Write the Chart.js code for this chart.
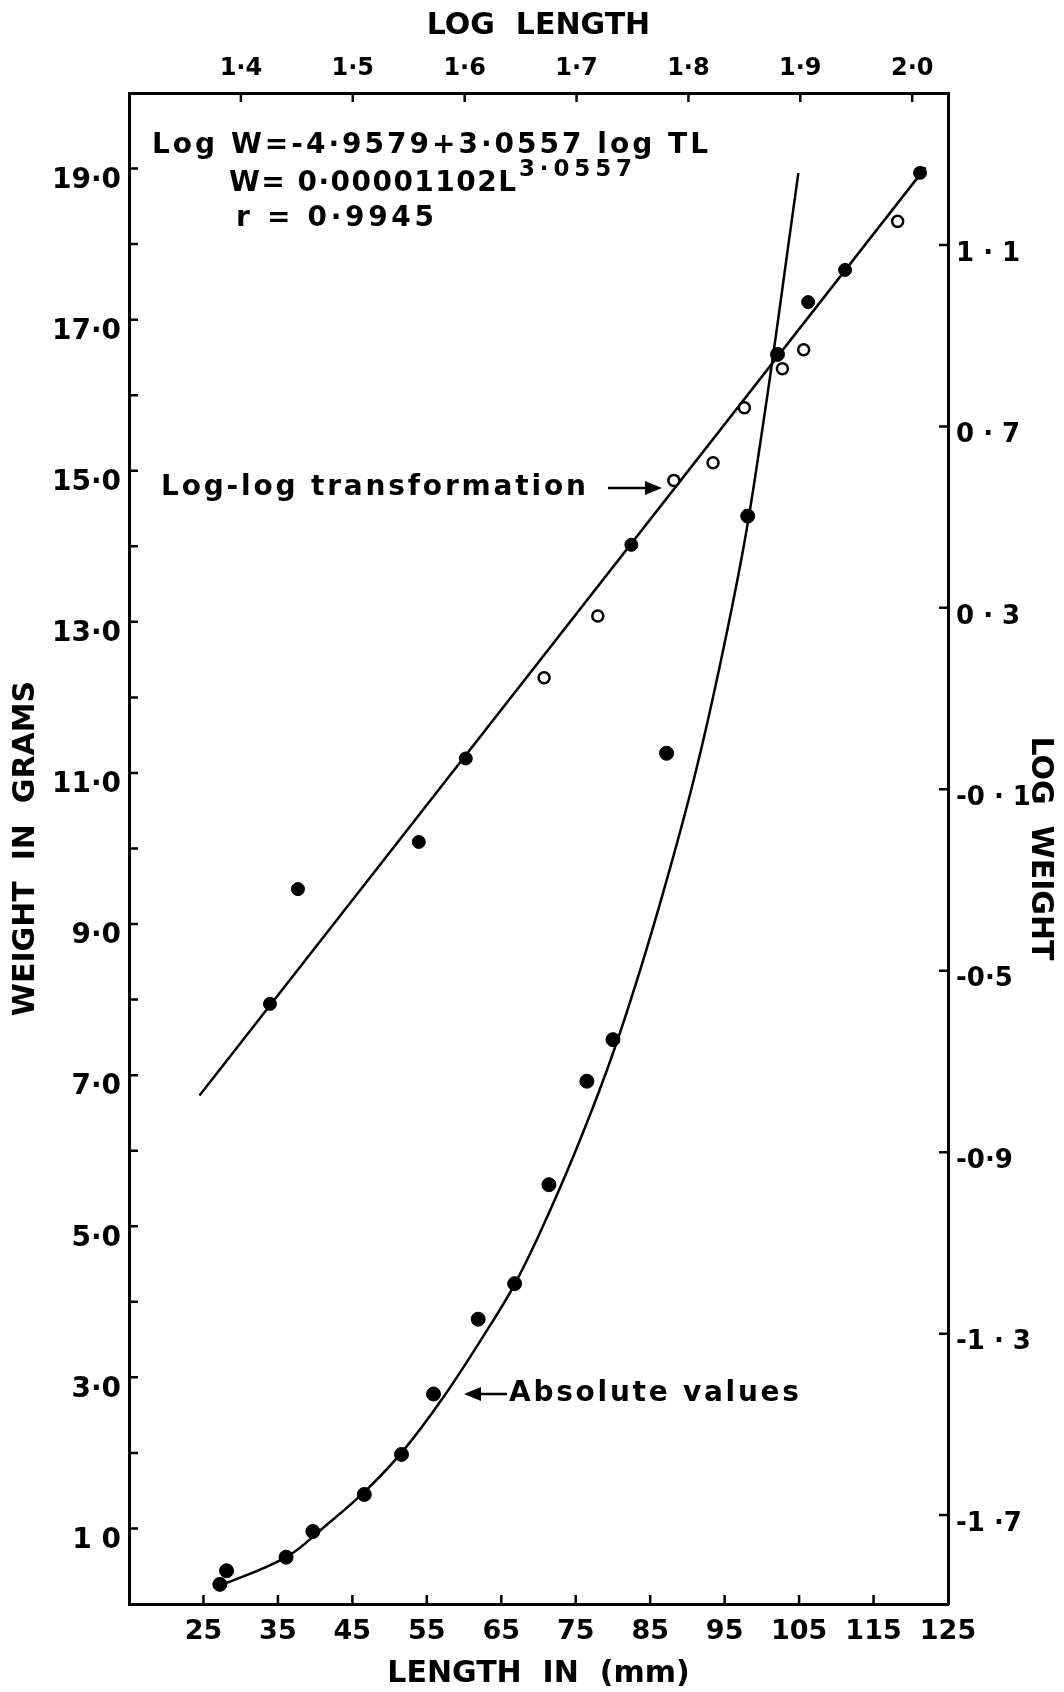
<!DOCTYPE html>
<html>
<head>
<meta charset="utf-8">
<script src="https://cdn.jsdelivr.net/npm/chart.js@4.4.1/dist/chart.umd.min.js"></script>
<style>
  html, body { margin: 0; padding: 0; background: #fff; }
  canvas { display: block; }
</style>
</head>
<body>
<canvas id="fishChart" width="1064" height="1692"></canvas>
<script>
// Tick values and labels (bottom: length mm, top: log length, left: weight g, right: log weight)
const xTickValues = [25, 35, 45, 55, 65, 75, 85, 95, 105, 115, 125];
const xTickLabels = ['25', '35', '45', '55', '65', '75', '85', '95', '105', '115', '125'];
const topTickValues = [1.4, 1.5, 1.6, 1.7, 1.8, 1.9, 2.0];
const topTickLabels = ['1·4', '1·5', '1·6', '1·7', '1·8', '1·9', '2·0'];
const leftTickValues = [1, 3, 5, 7, 9, 11, 13, 15, 17, 19];
const leftTickLabels = ['1 0', '3·0', '5·0', '7·0', '9·0', '11·0', '13·0', '15·0', '17·0', '19·0'];
const leftTickMarks = [1, 2, 3, 4, 5, 6, 7, 8, 9, 10, 11, 12, 13, 14, 15, 16, 17, 18, 19];
const rightTickValues = [-1.7, -1.3, -0.9, -0.5, -0.1, 0.3, 0.7, 1.1];
const rightTickLabels = ['-1 ·7', '-1 · 3', '-0·9', '-0·5', '-0 · 1', '0 · 3', '0 · 7', '1 · 1'];

// Absolute values (length mm, weight g)
const absLength = [27.2, 28.1, 36.1, 39.7, 46.6, 51.6, 55.9, 61.9, 66.8, 71.4, 76.5, 80.0, 87.2, 98.1, 102.1];
const absWeight = [0.26, 0.44, 0.62, 0.96, 1.45, 1.98, 2.78, 3.77, 4.24, 5.55, 6.92, 7.47, 11.26, 14.40, 16.54];

// Hand-drawn curve through the absolute values
const curveLength = [26.7, 36.1, 41.1, 46.9, 52.0, 57.1, 62.1, 66.9, 71.6, 75.9, 80.0, 83.9, 87.5, 91.1, 94.4, 97.6, 99.9, 102.0, 103.6, 104.9];
const curveWeight = [0.22, 0.62, 1.01, 1.51, 2.05, 2.72, 3.47, 4.25, 5.22, 6.22, 7.29, 8.47, 9.68, 11.01, 12.44, 14.02, 15.44, 16.87, 18.02, 18.94];

// Log-log points (log length, log weight), solid and open markers
const logLengthSolid = [1.426, 1.451, 1.559, 1.601, 1.749, 1.907, 1.940, 2.007];
const logWeightSolid = [-0.573, -0.320, -0.216, -0.032, 0.439, 0.974, 1.045, 1.259];
const logLengthOpen = [1.671, 1.719, 1.787, 1.822, 1.850, 1.884, 1.903, 1.987];
const logWeightOpen = [0.146, 0.282, 0.581, 0.620, 0.741, 0.827, 0.869, 1.152];

// Regression line ends
const fitLogLength = [1.363, 2.012];
const fitLogWeight = [-0.775, 1.271];

const FONT = "'DejaVu Sans', sans-serif";
const toPoints = (xs, ys) => xs.map((x, i) => ({ x: x, y: ys[i] }));

// draw text stretched to a given width with letter spacing
function fitText(ctx, text, x, y, width) {
    ctx.letterSpacing = '0px';
    const w = ctx.measureText(text).width;
    const gap = (width - w) / Math.max(1, text.length - 1);
    ctx.letterSpacing = gap.toFixed(2) + 'px';
    ctx.fillText(text, x, y);
    ctx.letterSpacing = '0px';
}

const inwardTicks = {
    id: 'inwardTicks',
    afterDraw(chart) {
        const { ctx, scales, chartArea } = chart;
        const len = 9;
        ctx.save();
        ctx.strokeStyle = '#000';
        ctx.lineWidth = 2.5;
        ctx.beginPath();
        xTickValues.slice(0, -1).forEach(v => {
            const px = scales.x.getPixelForValue(v);
            ctx.moveTo(px, chartArea.bottom);
            ctx.lineTo(px, chartArea.bottom - len);
        });
        topTickValues.forEach(v => {
            const px = scales.x2.getPixelForValue(v);
            ctx.moveTo(px, chartArea.top);
            ctx.lineTo(px, chartArea.top + len);
        });
        leftTickMarks.forEach(v => {
            const py = scales.y.getPixelForValue(v);
            ctx.moveTo(chartArea.left, py);
            ctx.lineTo(chartArea.left + len, py);
        });
        rightTickValues.forEach(v => {
            const py = scales.y2.getPixelForValue(v);
            ctx.moveTo(chartArea.right, py);
            ctx.lineTo(chartArea.right - len, py);
        });
        ctx.stroke();
        ctx.restore();
    }
};

const notes = {
    id: 'notes',
    afterDraw(chart) {
        const ctx = chart.ctx;
        ctx.save();
        ctx.fillStyle = '#000';
        ctx.strokeStyle = '#000';
        ctx.textAlign = 'left';
        ctx.textBaseline = 'middle';

        // equation block
        ctx.font = 'bold 28px ' + FONT;
        fitText(ctx, 'Log W=-4·9579+3·0557 log TL', 152, 146, 556);
        fitText(ctx, 'W= 0·00001102L', 229, 184, 287);
        fitText(ctx, 'r = 0·9945', 236, 219, 198);
        ctx.font = 'bold 23px ' + FONT;
        fitText(ctx, '3·0557', 519, 170, 113);

        // series labels
        ctx.font = 'bold 28px ' + FONT;
        fitText(ctx, 'Log-log transformation', 161, 488, 425);
        fitText(ctx, 'Absolute values', 509, 1394, 290);

        ctx.lineWidth = 2.5;
        ctx.beginPath();
        ctx.moveTo(608, 488);
        ctx.lineTo(648, 488);
        ctx.moveTo(480, 1394);
        ctx.lineTo(507, 1394);
        ctx.stroke();
        ctx.beginPath();
        ctx.moveTo(662, 488);
        ctx.lineTo(645, 481);
        ctx.lineTo(645, 495);
        ctx.closePath();
        ctx.moveTo(464, 1394);
        ctx.lineTo(481, 1387);
        ctx.lineTo(481, 1401);
        ctx.closePath();
        ctx.fill();
        ctx.restore();
    }
};

const tickFont = size => ({ family: FONT, size: size, weight: 'bold' });
const titleFont = { family: FONT, size: 30, weight: 'bold' };

new Chart(document.getElementById('fishChart').getContext('2d'), {
    type: 'scatter',
    data: {
        datasets: [
            {
                label: 'Absolute values',
                data: toPoints(absLength, absWeight),
                xAxisID: 'x',
                yAxisID: 'y',
                pointRadius: 7,
                backgroundColor: '#000',
                borderColor: '#000',
                showLine: false
            },
            {
                label: 'Log-log (solid)',
                data: toPoints(logLengthSolid, logWeightSolid),
                xAxisID: 'x2',
                yAxisID: 'y2',
                pointRadius: 6.5,
                backgroundColor: '#000',
                borderColor: '#000',
                showLine: false
            },
            {
                label: 'Log-log (open)',
                data: toPoints(logLengthOpen, logWeightOpen),
                xAxisID: 'x2',
                yAxisID: 'y2',
                pointRadius: 5.5,
                pointBorderWidth: 2.5,
                backgroundColor: '#fff',
                borderColor: '#000',
                showLine: false
            },
            {
                label: 'Absolute curve',
                data: toPoints(curveLength, curveWeight),
                xAxisID: 'x',
                yAxisID: 'y',
                showLine: true,
                pointRadius: 0,
                borderColor: '#000',
                borderWidth: 2.5,
                tension: 0.4
            },
            {
                label: 'Log-log fit',
                data: toPoints(fitLogLength, fitLogWeight),
                xAxisID: 'x2',
                yAxisID: 'y2',
                showLine: true,
                pointRadius: 0,
                borderColor: '#000',
                borderWidth: 2.5
            }
        ]
    },
    options: {
        responsive: false,
        animation: false,
        devicePixelRatio: 1,
        layout: { padding: 0 },
        plugins: {
            legend: { display: false },
            tooltip: { enabled: false }
        },
        scales: {
            x: {
                type: 'linear',
                position: 'bottom',
                min: 15,
                max: 125,
                afterBuildTicks: scale => { scale.ticks = xTickValues.map(v => ({ value: v })); },
                afterFit: scale => { scale.height = 88; },
                grid: { display: false, drawTicks: false },
                border: { display: true, color: '#000', width: 3 },
                ticks: {
                    autoSkip: false,
                    maxRotation: 0,
                    color: '#000',
                    font: tickFont(27),
                    padding: 12,
                    callback: (v, i) => xTickLabels[i]
                },
                title: {
                    display: true,
                    text: 'LENGTH  IN  (mm)',
                    color: '#000',
                    font: titleFont,
                    padding: { top: 0, bottom: 0 }
                }
            },
            x2: {
                type: 'linear',
                position: 'top',
                min: 1.3,
                max: 2.032,
                afterBuildTicks: scale => { scale.ticks = topTickValues.map(v => ({ value: v })); },
                afterFit: scale => { scale.height = 93; },
                grid: { display: false, drawTicks: false },
                border: { display: true, color: '#000', width: 3 },
                ticks: {
                    autoSkip: false,
                    maxRotation: 0,
                    color: '#000',
                    font: tickFont(24),
                    padding: 10,
                    callback: (v, i) => topTickLabels[i]
                },
                title: {
                    display: true,
                    text: 'LOG  LENGTH',
                    color: '#000',
                    font: titleFont,
                    padding: { top: 8, bottom: 0 }
                }
            },
            y: {
                type: 'linear',
                position: 'left',
                min: 0,
                max: 20,
                afterBuildTicks: scale => { scale.ticks = leftTickValues.map(v => ({ value: v })); },
                afterFit: scale => { scale.width = 129; },
                grid: { display: false, drawTicks: false },
                border: { display: true, color: '#000', width: 3 },
                ticks: {
                    autoSkip: false,
                    color: '#000',
                    font: tickFont(28),
                    padding: 8,
                    labelOffset: 12,
                    callback: (v, i) => leftTickLabels[i]
                },
                title: {
                    display: true,
                    text: 'WEIGHT  IN  GRAMS',
                    color: '#000',
                    font: titleFont,
                    padding: { top: 8, bottom: 0 }
                }
            },
            y2: {
                type: 'linear',
                position: 'right',
                min: -1.896,
                max: 1.435,
                afterBuildTicks: scale => { scale.ticks = rightTickValues.map(v => ({ value: v })); },
                afterFit: scale => { scale.width = 116; },
                grid: { display: false, drawTicks: false },
                border: { display: true, color: '#000', width: 3 },
                ticks: {
                    autoSkip: false,
                    color: '#000',
                    font: tickFont(26),
                    padding: 8,
                    labelOffset: 9,
                    callback: (v, i) => rightTickLabels[i]
                },
                title: {
                    display: true,
                    text: 'LOG  WEIGHT',
                    color: '#000',
                    font: titleFont,
                    padding: { top: 6, bottom: 0 }
                }
            }
        }
    },
    plugins: [inwardTicks, notes]
});
</script>
</body>
</html>
